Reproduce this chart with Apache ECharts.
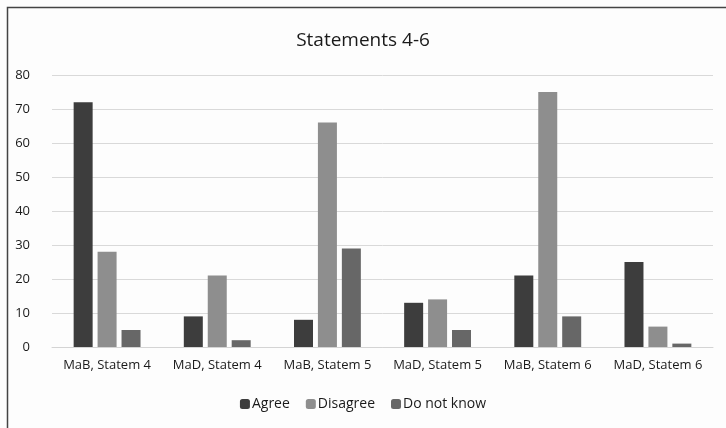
<!DOCTYPE html>
<html>
<head>
<meta charset="utf-8">
<script src="https://cdn.jsdelivr.net/npm/echarts@6/dist/echarts.min.js"></script>
<style>
  html, body { margin: 0; padding: 0; background: #fdfdfd; }
  #chart { width: 726px; height: 428px; }
</style>
</head>
<body>
<div id="chart"></div>
<script>
const categories = ['MaB, Statem 4', 'MaD, Statem 4', 'MaB, Statem 5', 'MaD, Statem 5', 'MaB, Statem 6', 'MaD, Statem 6'];
const agree = [72, 9, 8, 13, 21, 25];
const disagree = [28, 21, 66, 14, 75, 6];
const dontKnow = [5, 2, 29, 5, 9, 1];
const yTicks = [0, 10, 20, 30, 40, 50, 60, 70, 80];

const font = '"Open Sans", "Noto Sans", sans-serif';
const chart = echarts.init(document.getElementById('chart'));

function barSeries(name, data, color) {
  return {
    name: name,
    type: 'bar',
    data: data,
    barWidth: 19,
    barGap: '26%',
    itemStyle: { color: color }
  };
}

chart.setOption({
  backgroundColor: '#fdfdfd',
  animation: false,
  textStyle: { fontFamily: font },
  title: {
    text: 'Statements 4-6',
    left: 'center',
    top: 26,
    textStyle: { fontFamily: font, fontSize: 19, fontWeight: 'normal', color: '#1a1a1a' }
  },
  graphic: [{
    type: 'polyline',
    shape: { points: [[7.5, 440], [7.5, 7.5], [730, 7.5]] },
    style: { stroke: '#444', lineWidth: 1.5, fill: null }
  }],
  legend: {
    bottom: 12,
    left: 'center',
    itemWidth: 10,
    itemHeight: 10,
    itemGap: 16,
    textStyle: { fontFamily: font, fontSize: 14, color: '#1a1a1a', padding: [0, 0, 0, -3] },
    data: ['Agree', 'Disagree', 'Do not know']
  },
  grid: { left: 52, right: 13, top: 75, bottom: 81 },
  xAxis: {
    type: 'category',
    data: categories,
    axisTick: { show: false },
    axisLine: { lineStyle: { color: '#d4d4d4', width: 1 } },
    axisLabel: { color: '#1a1a1a', fontSize: 13, margin: 12, interval: 0 }
  },
  yAxis: {
    type: 'value',
    min: yTicks[0],
    max: yTicks[yTicks.length - 1],
    interval: 10,
    axisLine: { show: false },
    axisTick: { show: false },
    splitLine: { lineStyle: { color: '#d9d9d9', width: 1 } },
    axisLabel: { color: '#1a1a1a', fontSize: 13, margin: 22 }
  },
  series: [
    barSeries('Agree', agree, '#3d3d3d'),
    barSeries('Disagree', disagree, '#8e8e8e'),
    barSeries('Do not know', dontKnow, '#676767')
  ]
});
</script>
</body>
</html>
